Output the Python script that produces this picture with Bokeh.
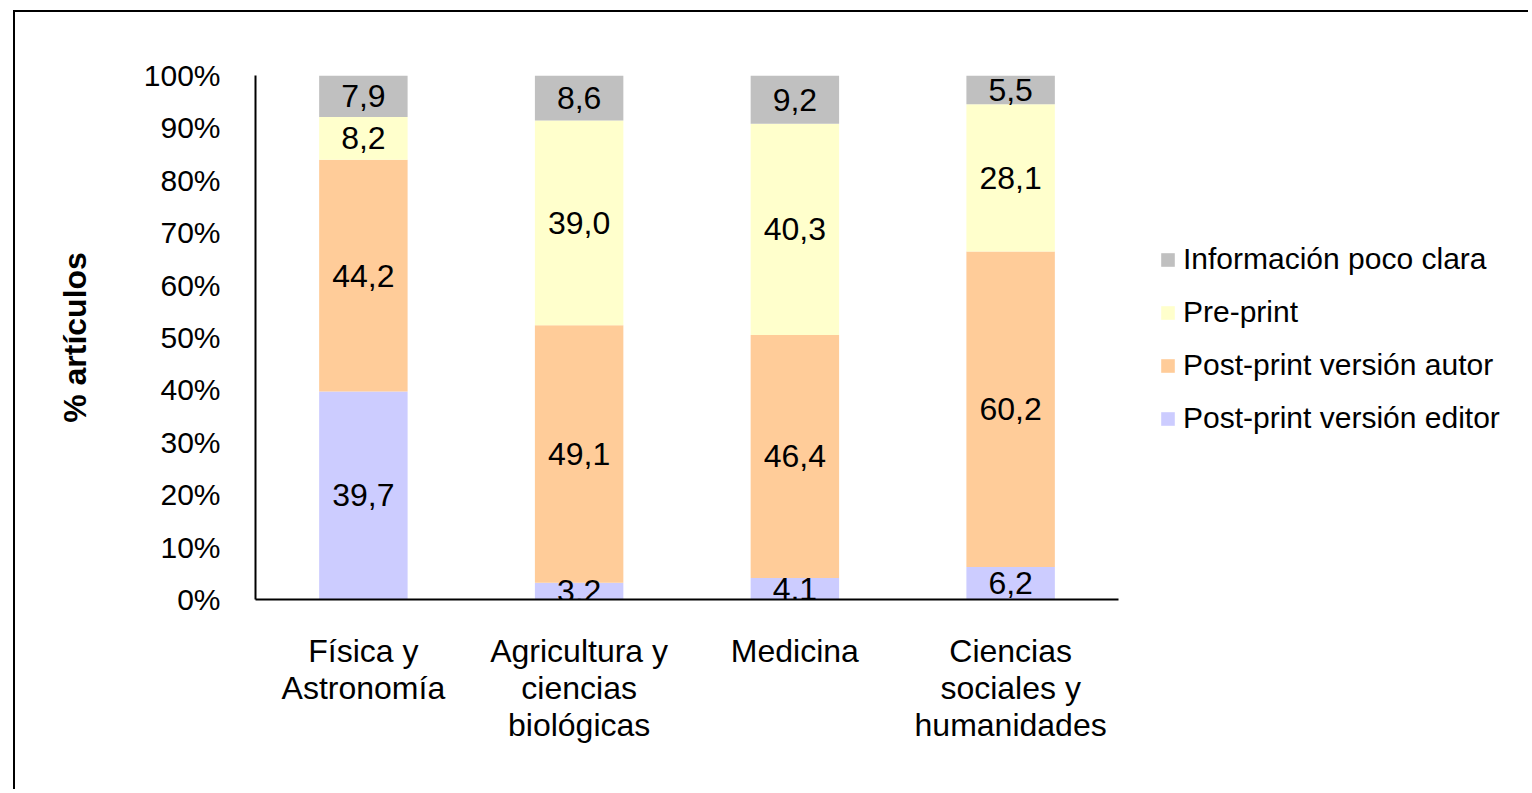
from bokeh.plotting import figure
from bokeh.models import (ColumnDataSource, FixedTicker, Legend, LegendItem,
                          LabelSet, Range1d)
from bokeh.core.properties import value
from bokeh.embed import file_html
from bokeh.resources import INLINE

# ---- data ----
categories = ["Física y\nAstronomía", "Agricultura y\nciencias\nbiológicas",
              "Medicina", "Ciencias\nsociales y\nhumanidades"]
series_names = ["Post-print versión editor", "Post-print versión autor",
                "Pre-print", "Información poco clara"]
editor = [39.7, 3.2, 4.1, 6.2]
autor = [44.2, 49.1, 46.4, 60.2]
preprint = [8.2, 39.0, 40.3, 28.1]
unclear = [7.9, 8.6, 9.2, 5.5]
colors = ["#CCCCFF", "#FFCC99", "#FFFFCC", "#C0C0C0"]
y_ticks = [0, 10, 20, 30, 40, 50, 60, 70, 80, 90, 100]

raw = [editor, autor, preprint, unclear]
keys = ["editor", "autor", "preprint", "unclear"]
n = len(categories)
totals = [sum(r[i] for r in raw) for i in range(n)]
norm = {k: [v / t * 100 for v, t in zip(r, totals)] for k, r in zip(keys, raw)}
xpos = [i + 0.5 for i in range(n)]

data = {"x": xpos}
data.update(norm)
source = ColumnDataSource(data)

FONT = "Liberation Sans"

# layout: plot area starts 240px into the canvas; categories occupy 863px
CANVAS_W, CANVAS_H = 1515, 779
LEFT, TOP, BOTTOM = 240, 63, 192
CAT_AREA = 863
frame_w = CANVAS_W - LEFT
x_end = n * frame_w / CAT_AREA

p = figure(x_range=Range1d(0, x_end), y_range=Range1d(0, 100),
           width=CANVAS_W, height=CANVAS_H,
           output_backend="svg", toolbar_location=None,
           min_border_left=LEFT, min_border_right=0,
           min_border_top=TOP, min_border_bottom=BOTTOM)
p.styles = {"margin-left": "13px", "margin-top": "10px",
            "border-left": "2px solid black", "border-top": "2px solid black"}
p.outline_line_color = None
p.xgrid.grid_line_color = None
p.ygrid.grid_line_color = None

renderers = p.vbar_stack(keys, x="x", width=0.41, source=source,
                         color=colors, line_color=None)

# data labels
lab_x, lab_y, lab_t = [], [], []
for i in range(n):
    base = 0.0
    for k, r in zip(keys, raw):
        h = norm[k][i]
        lab_x.append(xpos[i])
        lab_y.append(base + h / 2)
        lab_t.append(f"{r[i]:.1f}".replace(".", ","))
        base += h
lsrc = ColumnDataSource(dict(x=lab_x, y=lab_y, t=lab_t))
labels = LabelSet(x="x", y="y", text="t", source=lsrc, text_align="center",
                  text_baseline="middle", text_font=value(FONT),
                  text_font_size=value("32px"), text_color="black")
p.add_layout(labels)

# axes
p.yaxis.ticker = FixedTicker(ticks=y_ticks)
p.yaxis.major_label_overrides = {t: f"{t}%" for t in y_ticks}
p.yaxis.major_tick_line_color = None
p.yaxis.minor_tick_line_color = None
p.yaxis.major_tick_out = 0
p.yaxis.major_tick_in = 0
p.yaxis.major_label_standoff = 35
p.yaxis.major_label_text_font = FONT
p.yaxis.major_label_text_font_size = "30px"
p.yaxis.major_label_text_color = "black"
p.yaxis.axis_line_color = "black"
p.yaxis.axis_line_width = 2
p.yaxis.axis_label = "% artículos"
p.yaxis.axis_label_text_font = FONT
p.yaxis.axis_label_text_font_style = "bold"
p.yaxis.axis_label_text_font_size = "32px"
p.yaxis.axis_label_text_color = "black"
p.yaxis.axis_label_standoff = 48

p.xaxis.ticker = FixedTicker(ticks=xpos)
p.xaxis.major_label_overrides = dict(zip(xpos, categories))
p.xaxis.bounds = (0, n)
p.xaxis.major_tick_line_color = None
p.xaxis.minor_tick_line_color = None
p.xaxis.major_tick_out = 0
p.xaxis.major_tick_in = 0
p.xaxis.major_label_standoff = 33
p.xaxis.major_label_text_font = FONT
p.xaxis.major_label_text_font_size = "32px"
p.xaxis.major_label_text_line_height = 1.04
p.xaxis.major_label_text_color = "black"
p.xaxis.axis_line_color = "black"
p.xaxis.axis_line_width = 2

# legend (top item = last series)
items = [LegendItem(label=s, renderers=[r]) for s, r in zip(series_names, renderers)]
legend = Legend(items=items[::-1], location=(904, 163), orientation="vertical",
                border_line_color=None, background_fill_alpha=0,
                padding=0, margin=0, glyph_width=17, glyph_height=17,
                label_standoff=7, label_height=36, spacing=17,
                label_text_font=FONT, label_text_font_size="30px",
                label_text_color="black")
p.add_layout(legend)

open("out.html", "w").write(file_html(p, INLINE))
